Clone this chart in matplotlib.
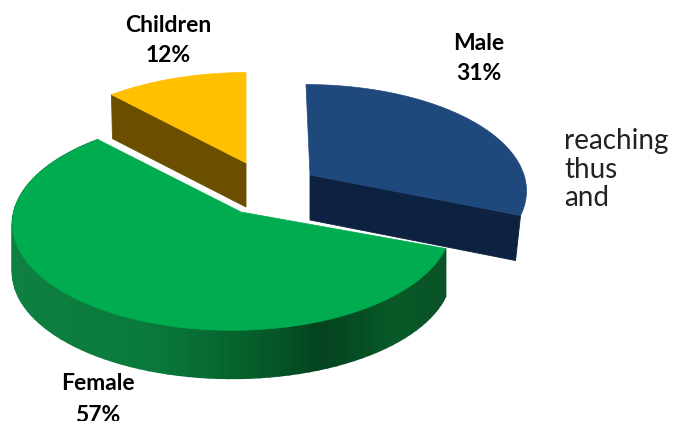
import matplotlib
matplotlib.use('Agg')
from matplotlib import pyplot as plt
from matplotlib.colors import LinearSegmentedColormap
from matplotlib.patches import Polygon
import numpy as np

labels = ['Male', 'Female', 'Children']
shares = [31, 57, 12]
side_words = ['reaching', 'thus', 'and']

top_colors = ['#1f497d', '#00ac50', '#ffc000']
cut_colors = ['#0d2140', None, '#6b4e00']
# centre of each exploded slice, radius in x, apex shift, wall height
centers = [(306, 175), (232, 208), (246, 163)]
radii_x = [218, 217, 218]
apex_shift = [(4, 0), (9, 4), (0, 0)]
depths = [45, 48, 44]
cut_side = [1, None, 0]   # which straight edge shows a wall
cut_lean = [-5, 0, 1]     # bottom of the cut face leans in a little

RAD_Y = 104
PERSP = 0.15

wall_cmap = LinearSegmentedColormap.from_list('wall', [
    (0.00, '#0e8040'), (0.32, '#0a7a3c'), (0.55, '#05602c'),
    (0.72, '#04431e'), (0.90, '#075a28'), (1.00, '#0a5127')])


def rim(center, rx, theta):
    u, v = np.sin(theta), np.cos(theta)
    s = 1 / (1 + PERSP * v)
    return center[0] + rx * u * s, center[1] - RAD_Y * v * s


fig = plt.figure(figsize=(6.73, 4.21), dpi=100)
ax = fig.add_axes([0, 0, 1, 1])
ax.set_xlim(0, 673)
ax.set_ylim(421, 0)
ax.axis('off')

edges = np.deg2rad(np.cumsum([0] + shares) * 3.6)

for i in [2, 0, 1]:
    theta = np.linspace(edges[i], edges[i + 1], 90)
    x, y = rim(centers[i], radii_x[i], theta)
    apex = (centers[i][0] + apex_shift[i][0], centers[i][1] + apex_shift[i][1])
    d = depths[i]

    # only the big slice shows its outer wall, in thin strips so the shade changes
    if labels[i] == 'Female':
        for k in range(len(theta) - 1):
            c = wall_cmap((x[k] - 12) / 435)
            ax.add_patch(Polygon([(x[k], y[k]), (x[k + 1], y[k + 1]),
                                  (x[k + 1], y[k + 1] + d), (x[k], y[k] + d)],
                                 closed=True, fc=c, ec=c, lw=1.2))

    # straight cut face
    if cut_side[i] is not None:
        j = -1 if cut_side[i] == 1 else 0
        ax.add_patch(Polygon([apex, (x[j], y[j]), (x[j] + cut_lean[i], y[j] + d),
                              (apex[0], apex[1] + d)],
                             closed=True, fc=cut_colors[i], ec=cut_colors[i], lw=0.6))

    ax.add_patch(Polygon([apex] + list(zip(x, y)), closed=True,
                         fc=top_colors[i], ec=top_colors[i], lw=0.5))

# data labels
label_pos = [(479, 43, 74), (98, 384, 416), (168, 25, 55)]
for name, val, (lx, ly1, ly2) in zip(labels, shares, label_pos):
    ax.text(lx, ly1, name, ha='center', va='center', fontsize=16.5,
            fontweight='bold', family='Lato', color='black')
    ax.text(lx, ly2, '%d%%' % val, ha='center', va='center', fontsize=16.5,
            fontweight='bold', family='Lato', color='black')

for word, wy in zip(side_words, [141, 170, 198]):
    ax.text(564, wy, word, ha='left', va='center', fontsize=20,
            family='Lato', color='#222222')

plt.savefig('out.png', dpi=100)
plt.close()
